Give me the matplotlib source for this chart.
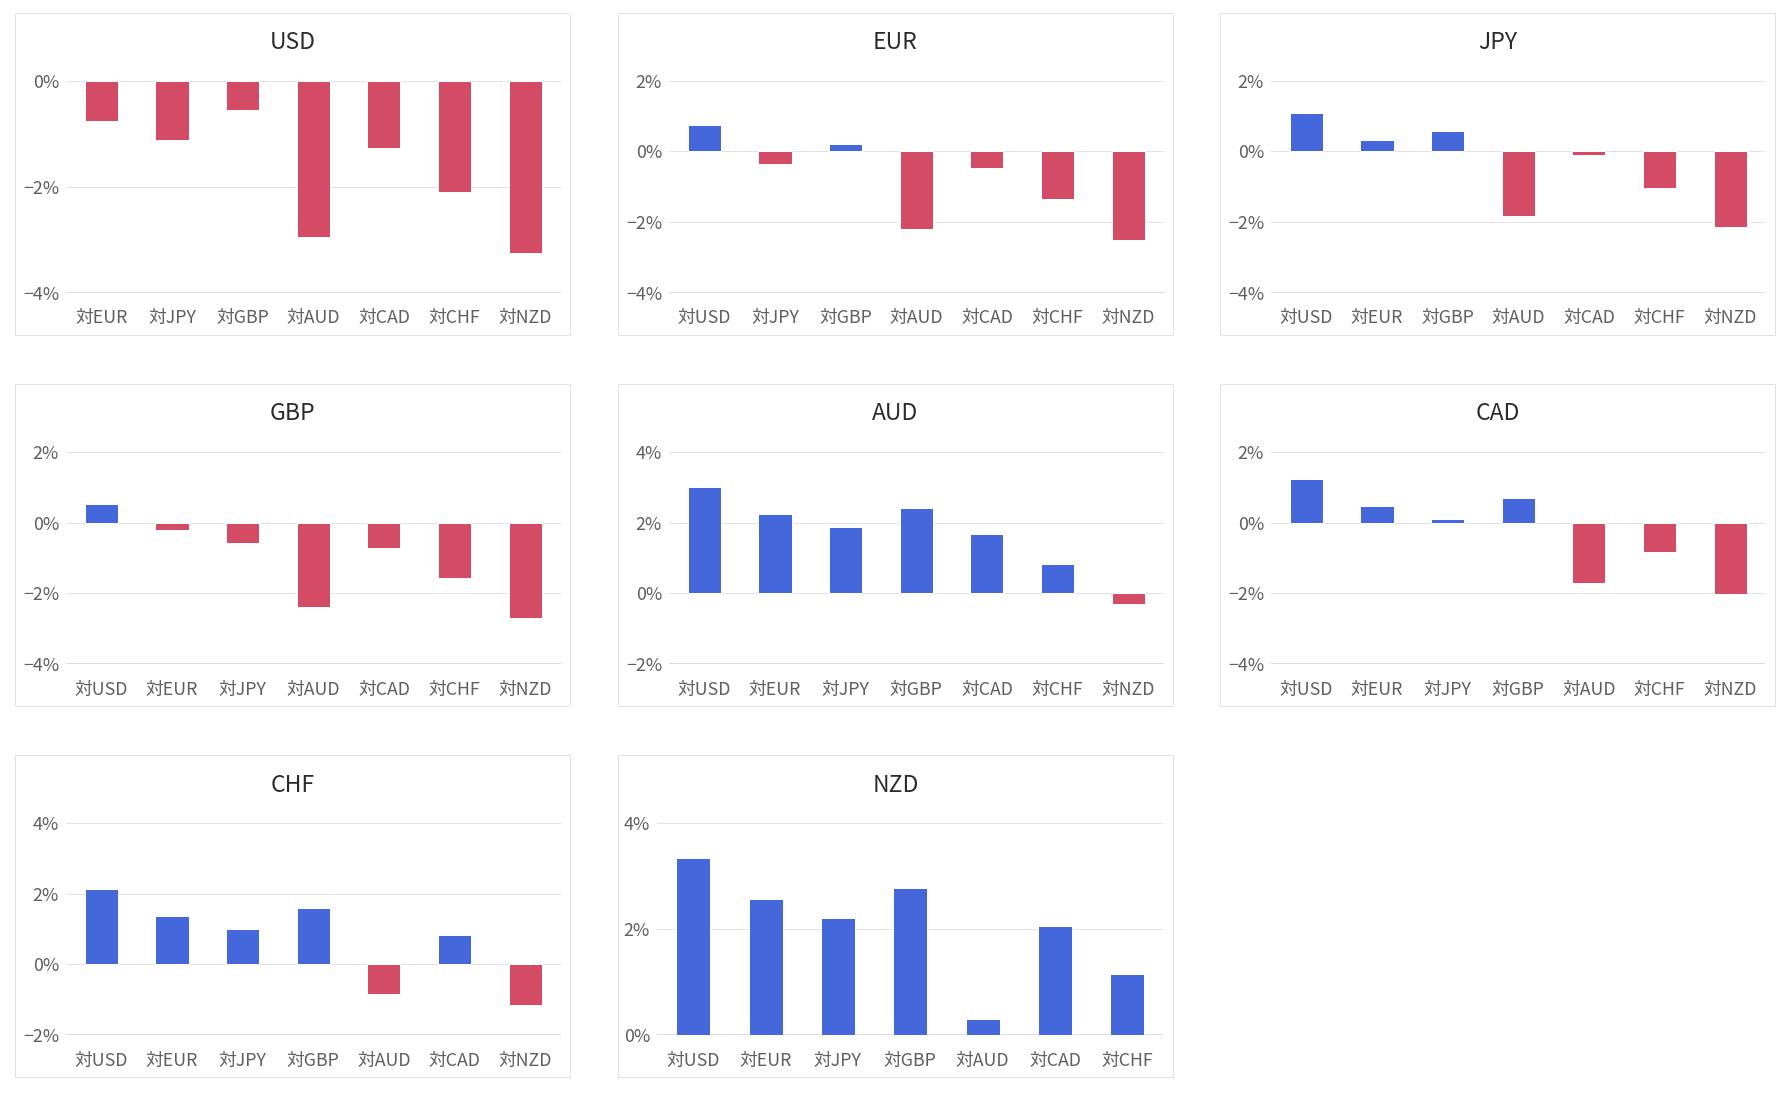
"""
Currency strength panels: each base currency vs the other seven (% change).
"""

import numpy as np
import matplotlib
matplotlib.use("Agg")
import matplotlib.pyplot as plt
from matplotlib.patches import Rectangle

plt.rcParams['font.family'] = ['Noto Sans CJK JP', 'DejaVu Sans']

# --- data (percent change) ---
currencies = ['USD', 'EUR', 'JPY', 'GBP', 'AUD', 'CAD', 'CHF', 'NZD']

usd_vals = [-0.76, -1.13, -0.55, -2.95, -1.27, -2.11, -3.25]
eur_vals = [0.74, -0.35, 0.20, -2.21, -0.49, -1.34, -2.51]
jpy_vals = [1.09, 0.33, 0.56, -1.84, -0.12, -1.03, -2.16]
gbp_vals = [0.52, -0.20, -0.57, -2.38, -0.71, -1.57, -2.69]
aud_vals = [3.00, 2.24, 1.88, 2.42, 1.69, 0.83, -0.30]
cad_vals = [1.25, 0.48, 0.11, 0.71, -1.70, -0.83, -2.01]
chf_vals = [2.14, 1.37, 1.01, 1.59, -0.85, 0.83, -1.16]
nzd_vals = [3.34, 2.56, 2.20, 2.77, 0.31, 2.05, 1.15]

values = [usd_vals, eur_vals, jpy_vals, gbp_vals, aud_vals, cad_vals, chf_vals, nzd_vals]

# y-axis range of each panel (min, max)
y_ranges = [(-4, 0), (-4, 2), (-4, 2), (-4, 2), (-2, 4), (-4, 2), (-2, 4), (0, 4)]

BLUE = '#4567dc'
RED = '#d44b65'
GRID = '#e3e3e3'
AXIS_LINE = '#ccd6eb'
BORDER = '#dde2e6'

W, H = 1790, 1094
PX = 72 / 100  # points per pixel at dpi 100

col_left = [15, 618, 1220]
row_top = [12.5, 384, 755]
panel_w, panel_h = 555, 322


def fx(x):
    return x / W


def fy(y):
    return 1 - y / H


def fmt_pct(v):
    s = f"{int(v)}%"
    return s.replace('-', '\u2212')


fig = plt.figure(figsize=(W / 100, H / 100), dpi=100)

for i, base in enumerate(currencies):
    r, c = divmod(i, 3)
    px0, py0 = col_left[c], row_top[r]

    # panel frame
    fig.add_artist(Rectangle((fx(px0), fy(py0 + panel_h)), fx(panel_w), panel_h / H,
                             transform=fig.transFigure, fill=False,
                             edgecolor=BORDER, linewidth=1.0 * PX))

    lo, hi = y_ranges[i]
    left_off = 51 if lo < 0 else 39
    ax_l = px0 + left_off
    ax_r = px0 + panel_w - 9.5
    ax_t = py0 + 68
    ax_b = py0 + panel_h - 42
    ax = fig.add_axes([fx(ax_l), fy(ax_b), fx(ax_r - ax_l), (ax_b - ax_t) / H])

    vals = np.array(values[i])
    labels = ['対' + cur for cur in currencies if cur != base]
    colors = [BLUE if v >= 0 else RED for v in vals]
    x = np.arange(len(vals))
    ax.bar(x, vals, width=0.47, color=colors, edgecolor='white',
           linewidth=1.0 * PX, zorder=3)

    ax.set_xlim(-0.5, len(vals) - 0.5)
    ax.set_ylim(lo, hi)
    ticks = np.arange(lo, hi + 1, 2)
    ax.set_yticks(ticks)
    ax.set_yticklabels([fmt_pct(t) for t in ticks])
    ax.set_xticks(x)
    ax.set_xticklabels(labels)

    for t in ticks:
        ax.axhline(t, color=GRID, linewidth=1.0 * PX, zorder=1)
    ax.axhline(lo, color=AXIS_LINE, linewidth=1.6 * PX, zorder=2)

    for s in ax.spines.values():
        s.set_visible(False)
    ax.tick_params(axis='both', length=0, labelsize=12.8, colors='#5f5f5f')
    ax.tick_params(axis='y', pad=5)
    ax.tick_params(axis='x', pad=12)

    fig.text(fx(px0 + panel_w / 2), fy(py0 + 30), base, ha='center', va='center',
             fontsize=16.5, color='#2b2b2b')

fig.savefig('out.png', dpi=100, facecolor='white')
